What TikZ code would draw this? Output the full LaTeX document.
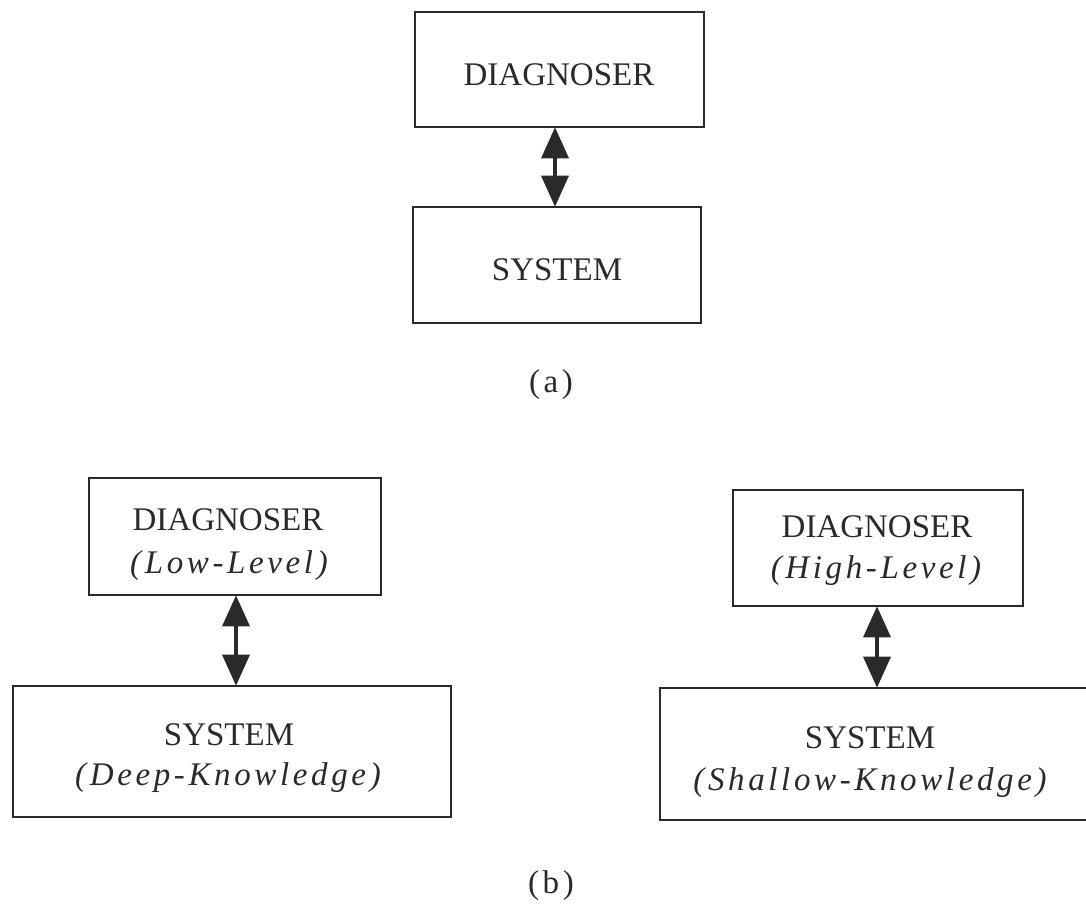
\documentclass[tikz,border=0pt]{standalone}
\usepackage{fontspec}
\setmainfont{Liberation Serif}
\newfontfamily\spacedit[LetterSpace=11]{Liberation Serif}
\usetikzlibrary{arrows.meta}
\definecolor{ink}{HTML}{2A2A2A}
\tikzset{
  box/.style={draw=ink, line width=2.6pt, rectangle, inner sep=0pt},
  capt/.style={anchor=base, text=ink, font=\fontsize{33}{36}\selectfont, inner sep=0pt},
  itl/.style={anchor=base, text=ink, font=\spacedit\itshape\fontsize{33}{36}\selectfont, inner sep=0pt},
  lbl/.style={anchor=base, text=ink, font=\spacedit\fontsize{33}{36}\selectfont, inner sep=0pt},
  link/.style={draw=ink, line width=3.5pt, {Triangle[width=27pt,length=31pt]}-{Triangle[width=27pt,length=31pt]}, shorten <=-1pt, shorten >=-1pt}
}
\begin{document}
\begin{tikzpicture}[x=1pt,y=-1pt]
\useasboundingbox (0,0) rectangle (1086,903);
% (a)
\node[box, minimum width=289pt, minimum height=115pt] (ad) at (559.5,69.5) {};
\node[box, minimum width=288pt, minimum height=116pt] (as) at (557,265) {};
\node[capt] (adt) at (559,85) {DIAGNOSER};
\node[capt] (ast) at (557,280) {SYSTEM};
\draw[link] (ad.south -| 555,0) -- (as.north -| 555,0);
\node[lbl] (la) at (551,392) {(a)};
% (b) left
\node[box, minimum width=292pt, minimum height=117pt] (bd) at (235,536.5) {};
\node[box, minimum width=438pt, minimum height=131pt] (bs) at (232,751.5) {};
\node[capt] (bdt) at (228,530) {DIAGNOSER};
\node[itl] (bdi) at (229,573) {(Low-Level)};
\node[capt] (bst) at (229,745) {SYSTEM};
\node[itl] (bsi) at (228,785) {(Deep-Knowledge)};
\draw[link] (bd.south -| 236,0) -- (bs.north -| 236,0);
% (b) right
\node[box, minimum width=290pt, minimum height=116pt] (cd) at (878,548) {};
\node[box, minimum width=440pt, minimum height=132pt] (cs) at (880,754) {};
\node[capt] (cdt) at (877,537) {DIAGNOSER};
\node[itl] (cdi) at (876,578) {(High-Level)};
\node[capt] (cst) at (870,748) {SYSTEM};
\node[itl] (csi) at (870,790) {(Shallow-Knowledge)};
\draw[link] (cd.south -| 877,0) -- (cs.north -| 877,0);
\node[lbl] (lb) at (551,893) {(b)};
\end{tikzpicture}
\end{document}
